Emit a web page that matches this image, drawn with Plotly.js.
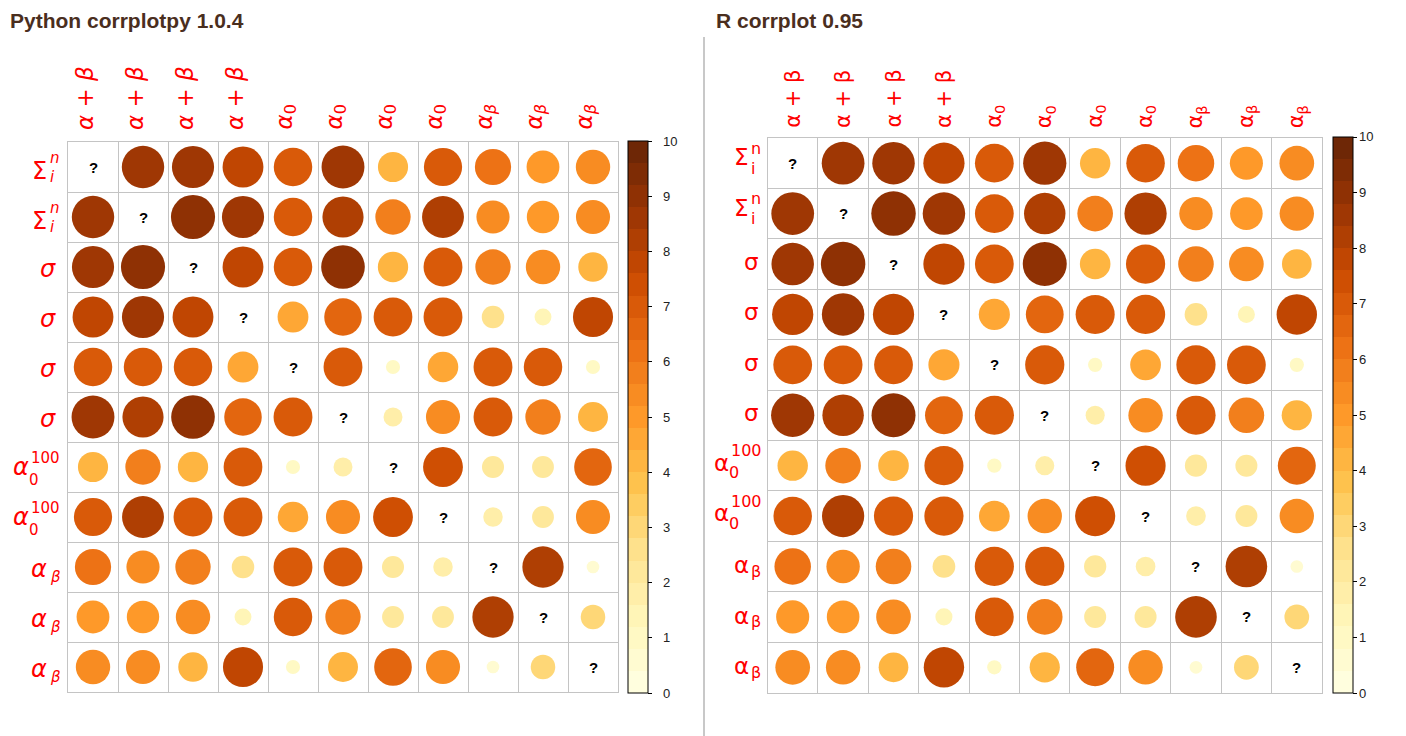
<!DOCTYPE html>
<html><head><meta charset="utf-8">
<script src="https://cdn.plot.ly/plotly-3.0.1.min.js"></script>
<style>html,body{margin:0;padding:0;background:#fff;} #chart{width:1406px;height:736px;}</style>
</head><body><div id="chart"></div>
<script>
// ---------- data ----------
const titlePy = 'Python corrplotpy 1.0.4';
const titleR = 'R corrplot 0.95';
const rowBase = ['Σ','Σ','σ','σ','σ','σ','α','α','α','α','α'];
const rowSup  = ['n','n','','','','','100','100','','',''];
const rowSub  = ['i','i','','','','','0','0','β','β','β'];
const colBase = ['α + β','α + β','α + β','α + β','α','α','α','α','α','α','α'];
const colSub  = ['','','','','0','0','0','0','β','β','β'];
const values = [
  [null,8.5,8.4,7.9,7.0,8.7,4.3,6.9,6.2,5.1,5.6],
  [8.5,null,9.2,8.4,7.0,8.0,5.9,8.3,5.2,4.95,5.5],
  [8.4,9.2,null,7.9,7.0,9.0,4.35,7.15,5.9,5.6,4.1],
  [7.9,8.4,7.9,null,4.5,6.65,7.1,7.15,2.4,1.35,7.6],
  [7.0,7.0,7.0,4.5,null,7.15,0.95,4.4,7.15,7.0,0.95],
  [8.7,8.0,9.0,6.65,7.15,null,1.7,5.5,7.15,5.9,4.25],
  [4.3,5.9,4.35,7.1,0.95,1.7,null,7.5,2.3,2.25,6.7],
  [6.9,8.3,7.15,7.15,4.4,5.5,7.5,null,1.8,2.25,5.5],
  [6.2,5.2,5.9,2.4,7.15,7.15,2.3,1.8,null,8.05,0.75],
  [5.1,4.95,5.6,1.35,7.0,5.9,2.25,2.25,8.05,null,2.85],
  [5.6,5.5,4.1,7.6,0.95,4.25,6.7,5.5,0.75,2.85,null]
];
const diagText = '?';
const cbTicks = [0,1,2,3,4,5,6,7,8,9,10];
const vmin = 0, vmax = 10;

// ---------- style ----------
const W = 1406, H = 736;
const anchors = ['#ffffe5','#fff7bc','#fee391','#fec44f','#fe9929','#ec7014','#cc4c02','#993404','#662506'];
function hex2rgb(h){return [1,3,5].map(i=>parseInt(h.substr(i,2),16));}
function interp(t){
  const n = anchors.length-1, p = Math.min(Math.max(t,0),1)*n, i = Math.min(Math.floor(p), n-1), f = p-i;
  const a = hex2rgb(anchors[i]), b = hex2rgb(anchors[i+1]);
  const c = a.map((v,k)=>Math.round(v+(b[k]-v)*f));
  return 'rgb('+c.join(',')+')';
}
function stepped(n){
  const cs=[];
  for(let i=0;i<n;i++){const c=interp((i+0.5)/n); cs.push([i/n,c]); cs.push([(i+1)/n,c]);}
  return cs;
}
const cscale = stepped(25);
const px = x => x/W, py = y => 1-y/H;

const panels = [
  {name:'py', xa:'x', ya:'y', left:68, right:618, top:142, bottom:692, italic:true,
   title:titlePy, titleX:8, cbX:628, cbTop:141, cbBot:693, cbLabelX:662, labelRight:58,
   baseFont:24, scriptFont:15, colFont:23, colBottom:131, colShift:-8,
   family:'DejaVu Sans'},
  {name:'r', xa:'x2', ya:'y2', left:767.5, right:1322, top:138, bottom:692.5, italic:false,
   title:titleR, titleX:714, cbX:1333, cbTop:137, cbBot:693, cbLabelX:1358, labelRight:760,
   baseFont:23, scriptFont:16, colFont:21, colBottom:129, colShift:0,
   family:'DejaVu Sans'}
];

function fmt(s, italic){
  if(!italic) return s;
  return s.replace(/([a-zα-ω])/g,'<i>$1</i>');
}

const traces = [], annotations = [], layout = {};
panels.forEach((P, pi) => {
  const xs=[], ys=[], vs=[];
  values.forEach((row,i)=>row.forEach((v,j)=>{
    if(v===null){
      annotations.push({text:'<b>'+diagText+'</b>', xref:P.xa, yref:P.ya, x:j, y:i,
        xanchor:'center', yanchor:'middle', showarrow:false, borderpad:0,
        font:{family:'Liberation Sans', size:15, color:'#000'}});
    } else {xs.push(j);ys.push(i);vs.push(v);}
  }));
  const cell = (P.right-P.left)/values.length;
  const rMax = cell*0.46;
  traces.push({
    type:'scatter', mode:'markers', x:xs, y:ys, xaxis:P.xa, yaxis:P.ya,
    hoverinfo:'skip',
    marker:{size:vs, sizemode:'area', sizeref:(vmax/2)/(rMax*rMax), color:vs, cmin:vmin, cmax:vmax,
      colorscale:cscale, line:{width:0}, opacity:1, showscale:true,
      colorbar:{x:px(P.cbX), xanchor:'left', y:py((P.cbTop+P.cbBot)/2), yanchor:'middle',
        len:(P.cbBot-P.cbTop)/H, lenmode:'fraction', thickness:20, thicknessmode:'pixels',
        outlinewidth:1, outlinecolor:'#000', borderwidth:0, xpad:0, ypad:0,
        ticks:'outside', ticklen:4, tickwidth:1, tickcolor:'#000',
        tickmode:'array', tickvals:cbTicks, showticklabels:false}}
  });
  const axc = (dom, rng) => ({domain:dom, range:rng, tickmode:'linear', tick0:-0.5, dtick:1,
    showgrid:true, gridcolor:'#c4c4c4', gridwidth:1, showticklabels:false, ticks:'',
    zeroline:false, showline:true, mirror:true, linecolor:'#c4c4c4', linewidth:1, fixedrange:true});
  const n = values.length;
  layout[pi===0?'xaxis':'xaxis2'] = Object.assign(axc([px(P.left),px(P.right)],[-0.5,n-0.5]), pi? {anchor:'y2'}:{});
  layout[pi===0?'yaxis':'yaxis2'] = Object.assign(axc([py(P.bottom),py(P.top)],[n-0.5,-0.5]), pi? {anchor:'x2'}:{});

  // colorbar tick labels, placed on the colorbar's own value scale
  cbTicks.forEach(v=>{
    const yPix = P.cbBot - (v-vmin)/(vmax-vmin)*(P.cbBot-P.cbTop);
    annotations.push({text:String(v), xref:'paper', yref:'paper', x:px(P.cbLabelX), y:py(yPix),
      xanchor:'left', yanchor:'middle', showarrow:false, borderpad:0,
      font:{family:'Liberation Sans', size:13, color:'#222'}});
  });

  // title
  annotations.push({text:'<b>'+P.title+'</b>', xref:'paper', yref:'paper', x:px(P.titleX), y:py(20),
    xanchor:'left', yanchor:'middle', showarrow:false,
    font:{family:'Liberation Sans', size:21, color:'#4a2e1e'}});

  // column labels
  colBase.forEach((b,j)=>{
    let t = fmt(b,P.italic);
    if(colSub[j]) t += '<sub>'+fmt(colSub[j],P.italic)+'</sub>';
    annotations.push({text:t, xref:P.xa, yref:'paper', x:j, y:py(P.colBottom), xshift:P.colShift,
      xanchor:'center', yanchor:'bottom', textangle:-90, showarrow:false, borderpad:0,
      font:{family:P.family, size:P.colFont, color:'#ff0000'}});
  });

  // row labels (base + stacked scripts)
  rowBase.forEach((b,i)=>{
    const sup=rowSup[i], sub=rowSub[i];
    const sw = Math.max(sup.length, sub.length)*0.62*P.scriptFont;
    const xb = P.labelRight - sw;
    let bs, sps, sbs;
    if(P.name==='py'){
      bs = (b==='Σ')? -4 : (b==='σ' ? -2 : (sup ? 0 : -2));
      sps = 9; sbs = (sup==='100') ? -13 : -10;
    } else {
      bs = (b==='Σ')? 6 : (b==='σ' ? 2 : (sup ? 3 : 1));
      sps = 15; sbs = (sup==='100') ? -7 : -5;
    }
    annotations.push({text:fmt(b,P.italic), xref:'paper', yref:P.ya, x:px(xb-0.5), y:i, yshift:bs,
      xanchor:'right', yanchor:'middle', showarrow:false, borderpad:0,
      font:{family:P.family, size:P.baseFont, color:'#ff0000'}});
    if(sup) annotations.push({text:fmt(sup,P.italic), xref:'paper', yref:P.ya, x:px(xb), y:i, yshift:sps,
      xanchor:'left', yanchor:'middle', showarrow:false, borderpad:0,
      font:{family:P.family, size:P.scriptFont, color:'#ff0000'}});
    if(sub) annotations.push({text:fmt(sub,P.italic), xref:'paper', yref:P.ya, x:px(xb-(sup==='100'?2:0)), y:i, yshift:sbs,
      xanchor:'left', yanchor:'middle', showarrow:false, borderpad:0,
      font:{family:P.family, size:P.scriptFont, color:'#ff0000'}});
  });
});

Object.assign(layout, {
  width:W, height:H, margin:{l:0,r:0,t:0,b:0,pad:0},
  paper_bgcolor:'#ffffff', plot_bgcolor:'rgba(0,0,0,0)',
  showlegend:false, annotations,
  shapes:[{type:'line', xref:'paper', yref:'paper', x0:px(704), x1:px(704), y0:py(37), y1:0,
    line:{color:'#c8c8c8', width:2}}]
});
Plotly.newPlot('chart', traces, layout, {staticPlot:true, displayModeBar:false});
</script></body></html>
